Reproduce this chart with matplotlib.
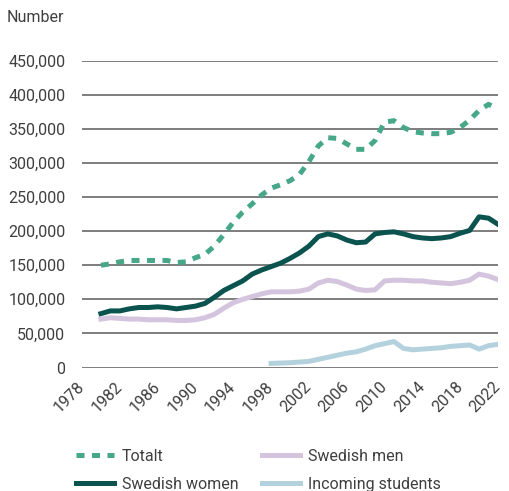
import matplotlib
matplotlib.use("Agg")
import matplotlib.pyplot as plt
import matplotlib.ticker as mticker
import matplotlib.transforms as mtransforms

plt.rcParams['font.family'] = ['Roboto', 'DejaVu Sans']

# data (thousands)
years = list(range(1980, 2023))
totalt = [150, 152, 155, 157, 157, 157, 157, 157, 154, 155,
          161, 166, 178, 195, 213, 228, 240, 253, 263, 268,
          274, 283, 302, 325, 337, 336, 328, 320, 320, 333,
          360, 362, 352, 346, 344, 343, 343, 345, 352, 363,
          377, 386, 379]
swedish_women = [79, 83, 83, 86, 88, 88, 89, 88, 86, 88,
                 90, 94, 103, 113, 120, 127, 137, 143, 148, 153,
                 160, 168, 178, 192, 196, 193, 187, 183, 184, 196,
                 198, 199, 196, 192, 190, 189, 190, 192, 197, 201,
                 221, 219, 210]
swedish_men = [71, 73, 72, 71, 71, 70, 70, 70, 69, 69,
               70, 73, 78, 87, 95, 100, 104, 108, 111, 111,
               111, 112, 115, 124, 128, 126, 121, 115, 113, 114,
               127, 128, 128, 127, 127, 125, 124, 123, 125, 128,
               137, 134, 129]
years_incoming = list(range(1998, 2023))
incoming = [6, 6.5, 7, 8, 9, 12, 15, 18, 21, 23,
            27, 32, 35, 38, 28, 26, 27, 28, 29, 31,
            32, 33, 27, 32, 34]

xticks = list(range(1978, 2023, 4))
yticks = list(range(0, 450001, 50000))

c_tot = '#46a789'
c_women = '#0b534f'
c_men = '#d4c4dd'
c_inc = '#b4d2de'
c_text = '#3f3f3f'
c_grid = '#5a5a5a'
fs = 11.5

fig = plt.figure(figsize=(5.10, 4.91), dpi=100)
ax = fig.add_axes([82 / 510, 1 - 367.5 / 491, 416 / 510, (367.5 - 60.7) / 491])

ax.plot(years, [v * 1000 for v in totalt], color=c_tot, lw=3.6,
        linestyle=(0, (1.6, 1.5)), label='Totalt', zorder=3)
ax.plot(years, [v * 1000 for v in swedish_women], color=c_women, lw=3.6,
        label='Swedish women', zorder=3)
ax.plot(years, [v * 1000 for v in swedish_men], color=c_men, lw=3.6,
        label='Swedish men', zorder=3)
ax.plot(years_incoming, [v * 1000 for v in incoming], color=c_inc, lw=3.6,
        label='Incoming students', zorder=3)

ax.set_xlim(1978, 2022)
ax.set_ylim(0, 450000)
ax.set_yticks(yticks)
ax.yaxis.set_major_formatter(mticker.FuncFormatter(lambda v, p: f'{int(v):,}'))
ax.set_xticks(xticks)
ax.set_xticklabels([str(t) for t in xticks], rotation=45, ha='right',
                   rotation_mode='anchor', va='center')
offset = mtransforms.ScaledTranslation(7 / 100, -12 / 100, fig.dpi_scale_trans)
for lbl in ax.get_xticklabels():
    lbl.set_transform(lbl.get_transform() + offset)

ax.grid(axis='y', color=c_grid, lw=1.1, zorder=0)
ax.set_axisbelow(True)
for s in ax.spines.values():
    s.set_visible(False)
ax.tick_params(axis='both', length=0, labelsize=fs, colors=c_text)
ax.tick_params(axis='y', pad=12)
ax.tick_params(axis='x', pad=12)

fig.text(7 / 510, 1 - 18 / 491, 'Number', fontsize=fs, color=c_text, va='center')

leg = fig.legend(loc='upper left', bbox_to_anchor=(76 / 510, 1 - 449 / 491),
                 ncol=2, frameon=False, fontsize=fs, handlelength=2.4,
                 handletextpad=0.45, columnspacing=1.5, labelspacing=0.8,
                 borderpad=0, borderaxespad=0)
for t in leg.get_texts():
    t.set_color(c_text)

fig.savefig('out.png', dpi=100)
